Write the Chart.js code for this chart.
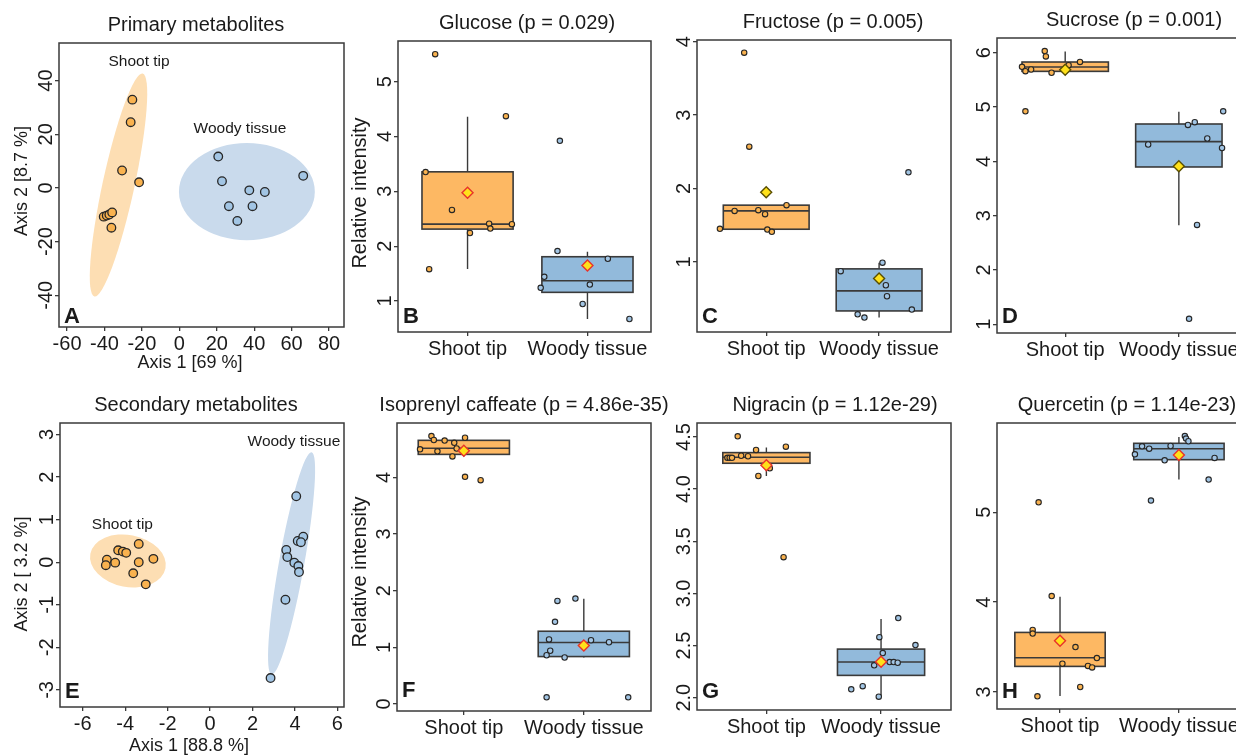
<!DOCTYPE html>
<html>
<head>
<meta charset="utf-8">
<script src="https://cdn.jsdelivr.net/npm/chart.js@4.4.1/dist/chart.umd.min.js"></script>
<style>
  body { margin: 0; background: #fff; width: 1236px; height: 756px; overflow: hidden; position: relative; }
  canvas { position: absolute; }
</style>
</head>
<body>
<script>
// ---- data ----
const groups = ["Shoot tip", "Woody tissue"];

// A: PCA, primary metabolites
const primXTicks = [-60, -40, -20, 0, 20, 40, 60, 80];
const primYTicks = ["-40", "-20", "0", "20", "40"];
const primShootX = [-25.1, -26.0, -30.6, -21.5, -40.4, -38.8, -37.4, -35.9, -36.3];
const primShootY = [32.9, 24.5, 6.5, 2.1, -10.7, -10.3, -9.9, -9.1, -14.8];
const primWoodyX = [20.8, 22.8, 37.4, 45.7, 66.2, 26.5, 39.1, 31.0];
const primWoodyY = [11.7, 2.5, -0.9, -1.5, 4.5, -6.8, -6.8, -12.3];
// ellipse: centre x, centre y, first semi-axis (dx, dy), second semi-axis (dx, dy)
const primShootEllipse = [-32.5, 1.1, 12.9, 41.5, 8.34, -1.27];
const primWoodyEllipse = [36.1, -1.37, 36.3, 0, 0, 18.1];

// E: PCA, secondary metabolites
const secXTicks = [-6, -4, -2, 0, 2, 4, 6];
const secYTicks = ["-3", "-2", "-1", "0", "1", "2", "3"];
const secShootX = [-4.86, -4.91, -4.47, -4.33, -4.11, -3.95, -3.36, -3.36, -2.67, -3.62, -3.03];
const secShootY = [0.06, -0.07, -0.01, 0.28, 0.25, 0.22, 0.43, 0.0, 0.08, -0.26, -0.52];
const secWoodyX = [4.06, 4.13, 4.39, 4.28, 3.59, 3.64, 3.97, 4.16, 4.19, 3.55, 2.85];
const secWoodyY = [1.55, 0.5, 0.6, 0.47, 0.29, 0.12, -0.01, -0.09, -0.23, -0.88, -2.72];
const secShootEllipse = [-3.87, 0.03, 1.77, -0.172, -0.234, -0.6];
const secWoodyEllipse = [3.84, -0.027, 0.941, 2.61, 0.587, -0.052];

// box plots: stats are [lower whisker, Q1, median, Q3, upper whisker]
const glucoseYTicks = ["1", "2", "3", "4", "5"];
const glucoseShootX = [0.73, 1.32, 0.65, 0.87, 1.18, 1.19, 1.37, 1.02, 0.68];
const glucoseShootY = [5.5, 4.37, 3.35, 2.66, 2.41, 2.32, 2.4, 2.24, 1.58];
const glucoseWoodyX = [1.77, 1.75, 2.17, 1.64, 1.61, 2.02, 1.96, 2.35];
const glucoseWoodyY = [3.92, 1.91, 1.77, 1.44, 1.24, 1.3, 0.945, 0.672];
const glucoseStats = [[1.583, 2.311, 2.402, 3.355, 4.357], [0.672, 1.158, 1.37, 1.807, 1.9]];
const glucoseMeans = [2.973, 1.649];

const fructoseYTicks = ["1", "2", "3", "4"];
const fructoseShootX = [0.805, 0.85, 0.72, 0.93, 0.99, 1.18, 0.59, 1.01, 1.05];
const fructoseShootY = [3.85, 2.57, 1.695, 1.705, 1.65, 1.773, 1.45, 1.44, 1.41];
const fructoseWoodyX = [2.26, 2.03, 1.66, 2.06, 2.07, 2.29, 1.81, 1.87];
const fructoseWoodyY = [2.22, 0.99, 0.873, 0.682, 0.532, 0.35, 0.286, 0.241];
const fructoseStats = [[1.41, 1.445, 1.695, 1.773, 1.773], [0.241, 0.332, 0.605, 0.905, 0.99]];
const fructoseMeans = [1.95, 0.773];

const sucroseYTicks = ["1", "2", "3", "4", "5", "6"];
const sucroseShootX = [0.82, 0.83, 0.62, 0.65, 0.7, 0.88, 1.03, 1.13, 0.65];
const sucroseShootY = [6.03, 5.93, 5.74, 5.66, 5.69, 5.63, 5.77, 5.83, 4.92];
const sucroseWoodyX = [2.39, 2.08, 2.14, 2.25, 1.73, 2.38, 2.16, 2.09];
const sucroseWoodyY = [4.92, 4.67, 4.72, 4.42, 4.31, 4.245, 2.83, 1.1];
const sucroseStats = [[5.63, 5.656, 5.736, 5.828, 6.02], [2.822, 3.896, 4.362, 4.687, 4.914]];
const sucroseMeans = [5.687, 3.908];

const isoYTicks = ["0", "1", "2", "3", "4"];
const isoShootX = [0.73, 0.75, 0.84, 0.92, 1.01, 0.635, 0.78, 0.94, 0.905, 1.01, 1.14];
const isoShootY = [4.73, 4.66, 4.65, 4.61, 4.7, 4.495, 4.46, 4.51, 4.37, 4.01, 3.95];
const isoWoodyX = [1.93, 1.78, 1.76, 1.71, 2.06, 2.21, 1.72, 1.69, 1.84, 1.69, 2.37];
const isoWoodyY = [1.86, 1.82, 1.45, 1.14, 1.125, 1.09, 0.94, 0.86, 0.82, 0.118, 0.118];
const isoStats = [[4.37, 4.406, 4.513, 4.654, 4.73], [0.82, 0.837, 1.084, 1.284, 1.856]];
const isoMeans = [4.471, 1.031];

const nigYTicks = ["2.0", "2.5", "3.0", "3.5", "4.0", "4.5"];
const nigShootX = [0.75, 0.91, 1.17, 0.66, 0.68, 0.7, 0.78, 0.84, 1.03, 0.93, 1.15];
const nigShootY = [4.506, 4.375, 4.407, 4.3, 4.3, 4.3, 4.32, 4.315, 4.2, 4.126, 3.347];
const nigWoodyX = [2.15, 1.985, 2.3, 2.015, 1.94, 2.075, 2.11, 2.145, 1.74, 1.84, 1.98];
const nigWoodyY = [2.763, 2.58, 2.505, 2.428, 2.31, 2.342, 2.342, 2.335, 2.08, 2.11, 2.01];
const nigStats = [[4.126, 4.248, 4.305, 4.35, 4.4], [2.01, 2.214, 2.342, 2.466, 2.754]];
const nigMeans = [4.229, 2.345];

const querYTicks = ["3", "4", "5"];
const querShootX = [0.93, 0.82, 0.77, 0.77, 1.13, 1.31, 1.02, 1.235, 1.27, 1.17, 0.81];
const querShootY = [4.067, 5.11, 3.69, 3.65, 3.5, 3.378, 3.315, 3.29, 3.274, 3.056, 2.952];
const querWoodyX = [2.05, 2.06, 2.08, 1.69, 1.93, 1.75, 1.63, 1.88, 2.3, 2.25, 1.765];
const querWoodyY = [5.848, 5.82, 5.79, 5.733, 5.737, 5.707, 5.644, 5.578, 5.604, 5.363, 5.13];
const querStats = [[2.956, 3.285, 3.381, 3.663, 4.06], [5.363, 5.585, 5.707, 5.767, 5.837]];
const querMeans = [3.57, 5.637];

// ---- look ----
const FONT = '"Liberation Sans", Arial, Helvetica, sans-serif';
const INK = "#1a1a1a";
const LINE = "#3a3a3a";
const ORANGE_BOX = "#FDB863", BLUE_BOX = "#92BADB";
const ORANGE_PT = "#F9B24F", BLUE_PT = "#A2C5E4";
const ORANGE_ELL = "#FDDEB3", BLUE_ELL = "#C9DAEC";
const YELLOW = "#FFE11A";
Chart.defaults.font.family = FONT;

const boxTicks = [1, 2];

const panels = [
  { type: "pca", box: [59, 43, 344, 327], title: "Primary metabolites", titleX: 196, letter: "A", letterY: 323,
    xr: [-64.3, 88], yr: [-51.8, 54], xTicks: primXTicks, yTicks: primYTicks,
    shoot: [primShootX, primShootY], woody: [primWoodyX, primWoodyY],
    ellipses: [primShootEllipse, primWoodyEllipse],
    labels: [["Shoot tip", -21.5, 47.2], ["Woody tissue", 32.4, 22]],
    xTitle: "Axis 1 [69 %]", xTitlePos: [190, 363], yTitle: "Axis 2 [8.7 %]", yTitlePos: [21.7, 181], yTitleSize: 18 },
  { type: "box", box: [398, 41, 651, 332], title: "Glucose (p = 0.029)", titleX: 527, letter: "B", letterY: 323,
    xr: [0.42, 2.53], yr: [0.435, 5.74], yTicks: glucoseYTicks,
    shoot: [glucoseShootX, glucoseShootY], woody: [glucoseWoodyX, glucoseWoodyY],
    stats: glucoseStats, means: glucoseMeans, meanEdge: "#E8332A",
    yTitle: "Relative intensity", yTitlePos: [360.7, 193], yTitleSize: 20 },
  { type: "box", box: [697, 40, 951, 332], title: "Fructose (p = 0.005)", titleX: 833, letter: "C", letterY: 323,
    xr: [0.387, 2.637], yr: [0.045, 4.023], yTicks: fructoseYTicks,
    shoot: [fructoseShootX, fructoseShootY], woody: [fructoseWoodyX, fructoseWoodyY],
    stats: fructoseStats, means: fructoseMeans, meanEdge: "#5a4f00" },
  { type: "box", box: [997, 38, 1255, 333], title: "Sucrose (p = 0.001)", titleX: 1134, letter: "D", letterY: 323,
    xr: [0.4, 2.67], yr: [0.84, 6.27], yTicks: sucroseYTicks,
    shoot: [sucroseShootX, sucroseShootY], woody: [sucroseWoodyX, sucroseWoodyY],
    stats: sucroseStats, means: sucroseMeans, meanEdge: "#5a4f00" },
  { type: "pca", box: [60, 423, 344, 707], title: "Secondary metabolites", titleX: 196, letter: "E", letterY: 698,
    xr: [-7.07, 6.31], yr: [-3.4, 3.27], xTicks: secXTicks, yTicks: secYTicks,
    shoot: [secShootX, secShootY], woody: [secWoodyX, secWoodyY],
    ellipses: [secShootEllipse, secWoodyEllipse],
    labels: [["Woody tissue", 3.95, 2.84], ["Shoot tip", -4.13, 0.885]],
    xTitle: "Axis 1 [88.8 %]", xTitlePos: [189, 746], yTitle: "Axis 2 [ 3.2 %]", yTitlePos: [21.7, 574], yTitleSize: 18 },
  { type: "box", box: [397, 423, 651, 711], title: "Isoprenyl caffeate (p = 4.86e-35)", titleX: 524, letter: "F", letterY: 697,
    xr: [0.443, 2.56], yr: [-0.124, 4.96], yTicks: isoYTicks,
    shoot: [isoShootX, isoShootY], woody: [isoWoodyX, isoWoodyY],
    stats: isoStats, means: isoMeans, meanEdge: "#E8332A",
    yTitle: "Relative intensity", yTitlePos: [360.7, 572], yTitleSize: 20 },
  { type: "box", box: [697, 423, 951, 710], title: "Nigracin (p = 1.12e-29)", titleX: 835, letter: "G", letterY: 698,
    xr: [0.395, 2.61], yr: [1.882, 4.634], yTicks: nigYTicks,
    shoot: [nigShootX, nigShootY], woody: [nigWoodyX, nigWoodyY],
    stats: nigStats, means: nigMeans, meanEdge: "#E8332A" },
  { type: "box", box: [997, 423, 1255, 709], title: "Quercetin (p = 1.14e-23)", titleX: 1127, letter: "H", letterY: 698,
    xr: [0.47, 2.64], yr: [2.811, 5.993], yTicks: querYTicks,
    shoot: [querShootX, querShootY], woody: [querWoodyX, querWoodyY],
    stats: querStats, means: querMeans, meanEdge: "#E8332A" },
];

// canvas margins round each plot box (room for ticks and text)
const PAD_L = 60, PAD_T = 40, PAD_R = 40, PAD_B = 55;

function xy(xs, ys) { return xs.map((v, i) => ({ x: v, y: ys[i] })); }

function decor(p) {
  return {
    id: "decor",
    beforeDatasetsDraw(chart) {
      const { ctx, chartArea: a, scales: { x, y } } = chart;
      ctx.save();
      ctx.beginPath();
      ctx.rect(a.left, a.top, a.right - a.left, a.bottom - a.top);
      ctx.clip();
      if (p.ellipses) {
        const fills = [ORANGE_ELL, BLUE_ELL];
        p.ellipses.forEach((e, i) => {
          const [cx, cy, ax, ay, bx, by] = e;
          const px = x.getPixelForValue(cx), py = y.getPixelForValue(cy);
          ctx.save();
          ctx.transform(
            x.getPixelForValue(cx + ax) - px, y.getPixelForValue(cy + ay) - py,
            x.getPixelForValue(cx + bx) - px, y.getPixelForValue(cy + by) - py,
            px, py);
          ctx.beginPath();
          ctx.arc(0, 0, 1, 0, Math.PI * 2);
          ctx.restore();
          ctx.fillStyle = fills[i];
          ctx.fill();
        });
      }
      if (p.stats) {
        const fills = [ORANGE_BOX, BLUE_BOX];
        const hw = 0.38;
        p.stats.forEach((s, i) => {
          const c = boxTicks[i];
          const [lo, q1, med, q3, hi] = s;
          const xc = x.getPixelForValue(c);
          const xl = x.getPixelForValue(c - hw), xr = x.getPixelForValue(c + hw);
          const yt = y.getPixelForValue(q3), yb = y.getPixelForValue(q1);
          ctx.strokeStyle = LINE;
          ctx.lineWidth = 1.4;
          ctx.beginPath();
          ctx.moveTo(xc, y.getPixelForValue(hi)); ctx.lineTo(xc, yt);
          ctx.moveTo(xc, yb); ctx.lineTo(xc, y.getPixelForValue(lo));
          ctx.stroke();
          ctx.fillStyle = fills[i];
          ctx.fillRect(xl, yt, xr - xl, yb - yt);
          ctx.lineWidth = 1.6;
          ctx.strokeRect(xl, yt, xr - xl, yb - yt);
          const ym = y.getPixelForValue(med);
          ctx.beginPath();
          ctx.moveTo(xl, ym); ctx.lineTo(xr, ym);
          ctx.stroke();
        });
      }
      ctx.restore();
    },
    afterDraw(chart) {
      const { ctx, chartArea: a, scales: { x, y } } = chart;
      const ox = p.box[0] - PAD_L, oy = p.box[1] - PAD_T;
      ctx.save();
      // frame
      ctx.strokeStyle = LINE;
      ctx.lineWidth = 1.5;
      ctx.strokeRect(a.left, a.top, a.right - a.left, a.bottom - a.top);
      ctx.fillStyle = INK;
      // y tick labels, parallel to the axis
      ctx.font = `20px ${FONT}`;
      ctx.textAlign = "center";
      ctx.textBaseline = "alphabetic";
      y.ticks.forEach((t, k) => {
        ctx.save();
        ctx.translate(a.left - 7, y.getPixelForValue(t.value));
        ctx.rotate(-Math.PI / 2);
        ctx.fillText(p.yTicks[k], 0, 0);
        ctx.restore();
      });
      // title
      ctx.textBaseline = "middle";
      ctx.font = `20px ${FONT}`;
      ctx.fillText(p.title, p.titleX - ox, a.top - 18);
      // axis titles
      if (p.xTitle) {
        ctx.font = `18px ${FONT}`;
        ctx.fillText(p.xTitle, p.xTitlePos[0] - ox, p.xTitlePos[1] - oy);
      }
      if (p.yTitle) {
        ctx.font = `${p.yTitleSize}px ${FONT}`;
        ctx.save();
        ctx.translate(p.yTitlePos[0] - ox, p.yTitlePos[1] - oy);
        ctx.rotate(-Math.PI / 2);
        ctx.fillText(p.yTitle, 0, 0);
        ctx.restore();
      }
      // group labels inside PCA panels
      if (p.labels) {
        ctx.font = `15.5px ${FONT}`;
        p.labels.forEach(([txt, lx, ly]) => {
          ctx.fillText(txt, x.getPixelForValue(lx), y.getPixelForValue(ly));
        });
      }
      // panel letter
      ctx.font = `bold 22px ${FONT}`;
      ctx.textAlign = "left";
      ctx.textBaseline = "alphabetic";
      ctx.fillText(p.letter, a.left + 5, p.letterY - oy);
      ctx.restore();
    },
  };
}

function makePanel(p) {
  const [L, T, R, B] = p.box;
  const cv = document.createElement("canvas");
  const w = R - L + PAD_L + PAD_R, h = B - T + PAD_T + PAD_B;
  cv.width = w; cv.height = h;
  cv.style.left = (L - PAD_L) + "px";
  cv.style.top = (T - PAD_T) + "px";
  cv.style.width = w + "px";
  cv.style.height = h + "px";
  document.body.appendChild(cv);

  const pca = p.type === "pca";
  const xTickVals = pca ? p.xTicks : boxTicks;
  const yTickVals = p.yTicks.map(Number);
  const gridOpts = { display: true, drawOnChartArea: false, drawTicks: true, tickLength: 4, color: LINE, lineWidth: 1.3 };

  const datasets = [];
  if (!pca) {
    datasets.push({
      data: xy(boxTicks, p.means), pointStyle: "rectRot", pointRadius: 5.5,
      backgroundColor: YELLOW, borderColor: p.meanEdge, borderWidth: 1.4,
    });
  }
  const r = pca ? 4.3 : 2.7;
  datasets.push({ data: xy(p.shoot[0], p.shoot[1]), pointRadius: r, backgroundColor: ORANGE_PT, borderColor: "#262626", borderWidth: pca ? 1.3 : 1.1 });
  datasets.push({ data: xy(p.woody[0], p.woody[1]), pointRadius: r, backgroundColor: BLUE_PT, borderColor: "#262626", borderWidth: pca ? 1.3 : 1.1 });

  new Chart(cv, {
    type: "scatter",
    data: { datasets },
    options: {
      responsive: false,
      animation: false,
      devicePixelRatio: 1,
      layout: { padding: { left: 0, top: PAD_T, right: PAD_R, bottom: 0 } },
      plugins: { legend: { display: false }, tooltip: { enabled: false } },
      elements: { point: { hoverRadius: 0 } },
      scales: {
        x: {
          type: "linear", min: p.xr[0], max: p.xr[1],
          afterFit: (s) => { s.height = PAD_B; },
          afterBuildTicks: (s) => { s.ticks = xTickVals.map((v) => ({ value: v })); },
          ticks: {
            autoSkip: false, maxRotation: 0, minRotation: 0, padding: 1, color: INK,
            font: { size: 20 },
            callback: (v) => (pca ? String(v) : groups[boxTicks.indexOf(v)]),
          },
          grid: gridOpts,
          border: { display: false },
        },
        y: {
          type: "linear", min: p.yr[0], max: p.yr[1],
          afterFit: (s) => { s.width = PAD_L; },
          afterBuildTicks: (s) => { s.ticks = yTickVals.map((v) => ({ value: v })); },
          ticks: { display: false },
          grid: gridOpts,
          border: { display: false },
        },
      },
    },
    plugins: [decor(p)],
  });
}

panels.forEach(makePanel);
</script>
</body>
</html>
